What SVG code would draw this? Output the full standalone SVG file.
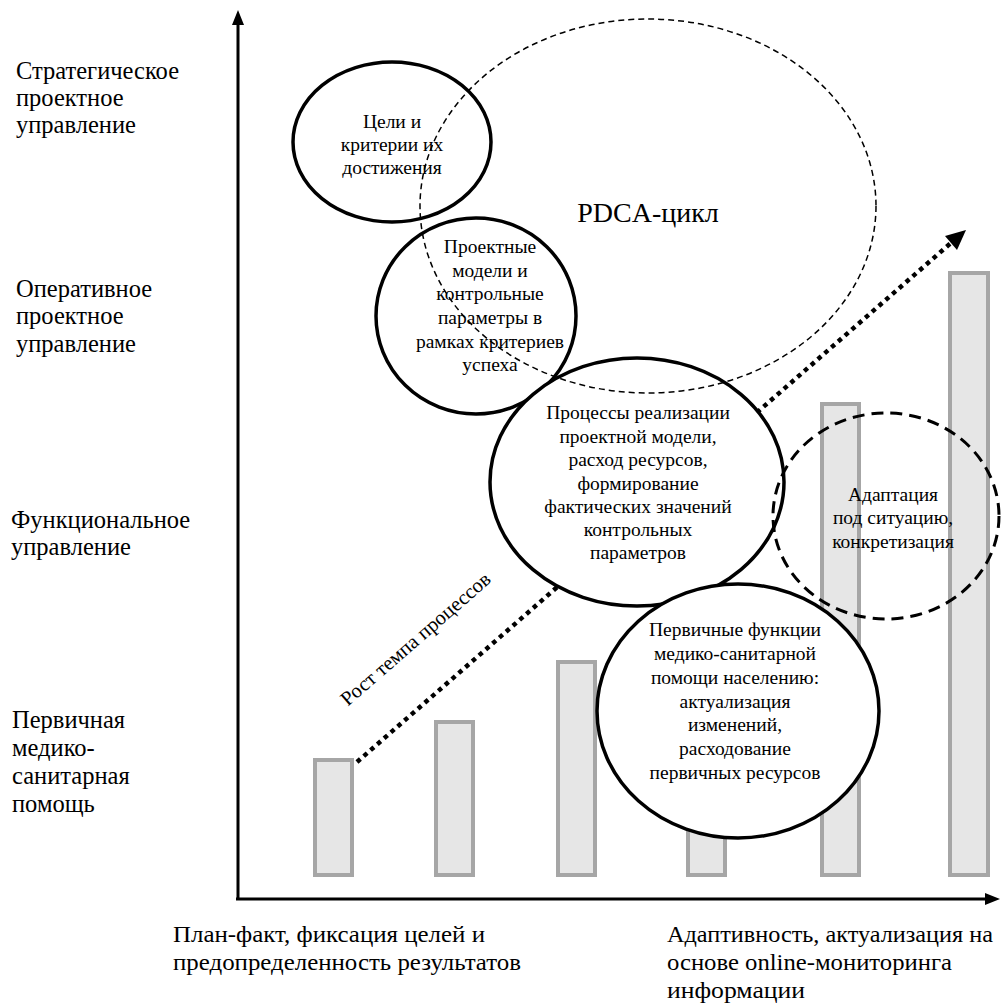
<svg xmlns="http://www.w3.org/2000/svg" width="1001" height="1005" viewBox="0 0 1001 1005">
<style>
.bar{fill:#e6e6e6;stroke:#a6a6a6;stroke-width:4}
.node{fill:#fff;stroke:#000;stroke-width:3.5}
.t{font-family:"Liberation Serif","Times New Roman",serif;fill:#000}
.ct{font-size:19.5px;text-anchor:middle}
.lab{font-size:24.5px}
.bl{font-size:24px}
.ax{stroke:#000;stroke-width:3;fill:none}
</style>
<rect width="1001" height="1005" fill="#fff"/>
<g id="bars">
<rect class="bar" x="315" y="760" width="37" height="115"/>
<rect class="bar" x="436" y="722" width="37" height="153"/>
<rect class="bar" x="558" y="662" width="37" height="213"/>
<rect class="bar" x="688" y="560" width="37" height="315"/>
<rect class="bar" x="822" y="404" width="37" height="471"/>
<rect class="bar" x="950" y="273" width="38" height="602"/>
</g>
<g id="connectors">
<line x1="357" y1="762" x2="952" y2="242" stroke="#000" stroke-width="4.5" stroke-dasharray="4.5 4.5"/>
<path d="M966,230 L957,250 L945,236 Z" fill="#000"/>
<line class="ax" x1="238" y1="899" x2="238" y2="24"/>
<path d="M238,10 L232,25 L244,25 Z" fill="#000"/>
<line class="ax" x1="236" y1="899" x2="986" y2="899"/>
<path d="M1000,899 L985,893 L985,905 Z" fill="#000"/>
</g>
<g id="goals">
<ellipse class="node" cx="392" cy="142" rx="99" ry="80"/>
</g>
<g id="models">
<ellipse class="node" cx="476" cy="316" rx="100" ry="98"/>
</g>
<g id="processes">
<ellipse class="node" cx="637" cy="482" rx="147" ry="124"/>
</g>
<g id="primary">
<ellipse class="node" cx="738" cy="711" rx="141" ry="127"/>
</g>
<g id="pdca">
<ellipse cx="648" cy="206" rx="228" ry="187" fill="none" stroke="#000" stroke-width="1.5" stroke-dasharray="6 4"/>
<text class="t" x="648" y="222" font-size="28" text-anchor="middle">PDCA-цикл</text>
</g>
<g id="adapt">
<ellipse cx="886" cy="516" rx="113" ry="103" fill="none" stroke="#000" stroke-width="3" stroke-dasharray="12 7"/>
<text class="t ct" x="893" y="501">Адаптация</text>
<text class="t ct" x="893" y="524">под ситуацию,</text>
<text class="t ct" x="893" y="548">конкретизация</text>
</g>
<g id="goals-text">
<text class="t ct" x="392" y="128">Цели и</text>
<text class="t ct" x="392" y="151">критерии их</text>
<text class="t ct" x="392" y="174">достижения</text>
</g>
<g id="models-text">
<text class="t ct" x="490" y="253">Проектные</text>
<text class="t ct" x="490" y="277">модели и</text>
<text class="t ct" x="490" y="300">контрольные</text>
<text class="t ct" x="490" y="324">параметры в</text>
<text class="t ct" x="490" y="348">рамках критериев</text>
<text class="t ct" x="490" y="371">успеха</text>
</g>
<g id="processes-text">
<text class="t ct" x="638" y="419">Процессы реализации</text>
<text class="t ct" x="638" y="443">проектной модели,</text>
<text class="t ct" x="638" y="466">расход ресурсов,</text>
<text class="t ct" x="638" y="490">формирование</text>
<text class="t ct" x="638" y="513">фактических значений</text>
<text class="t ct" x="638" y="536">контрольных</text>
<text class="t ct" x="638" y="559">параметров</text>
</g>
<g id="primary-text">
<text class="t ct" x="735" y="636">Первичные функции</text>
<text class="t ct" x="735" y="660">медико-санитарной</text>
<text class="t ct" x="735" y="684">помощи населению:</text>
<text class="t ct" x="735" y="708">актуализация</text>
<text class="t ct" x="735" y="731">изменений,</text>
<text class="t ct" x="735" y="755">расходование</text>
<text class="t ct" x="735" y="779">первичных ресурсов</text>
</g>
<g id="growth-label">
<text class="t" x="420" y="644" font-size="20.5" text-anchor="middle" transform="rotate(-41 420 644)">Рост темпа процессов</text>
</g>
<g id="levels">
<text class="t lab" x="16" y="79">Стратегическое</text>
<text class="t lab" x="16" y="106">проектное</text>
<text class="t lab" x="16" y="133">управление</text>
<text class="t lab" x="16" y="297">Оперативное</text>
<text class="t lab" x="16" y="324">проектное</text>
<text class="t lab" x="16" y="352">управление</text>
<text class="t lab" x="11" y="528">Функциональное</text>
<text class="t lab" x="11" y="555">управление</text>
<text class="t lab" x="12" y="728">Первичная</text>
<text class="t lab" x="12" y="756">медико-</text>
<text class="t lab" x="12" y="784">санитарная</text>
<text class="t lab" x="12" y="812">помощь</text>
</g>
<g id="axis-labels">
<text class="t bl" x="173" y="942" textLength="312" lengthAdjust="spacingAndGlyphs">План-факт, фиксация целей и</text>
<text class="t bl" x="173" y="970" textLength="348" lengthAdjust="spacingAndGlyphs">предопределенность результатов</text>
<text class="t bl" x="667" y="942" textLength="326" lengthAdjust="spacingAndGlyphs">Адаптивность, актуализация на</text>
<text class="t bl" x="667" y="970" textLength="285" lengthAdjust="spacingAndGlyphs">основе online-мониторинга</text>
<text class="t bl" x="667" y="998" textLength="138" lengthAdjust="spacingAndGlyphs">информации</text>
</g>
</svg>
